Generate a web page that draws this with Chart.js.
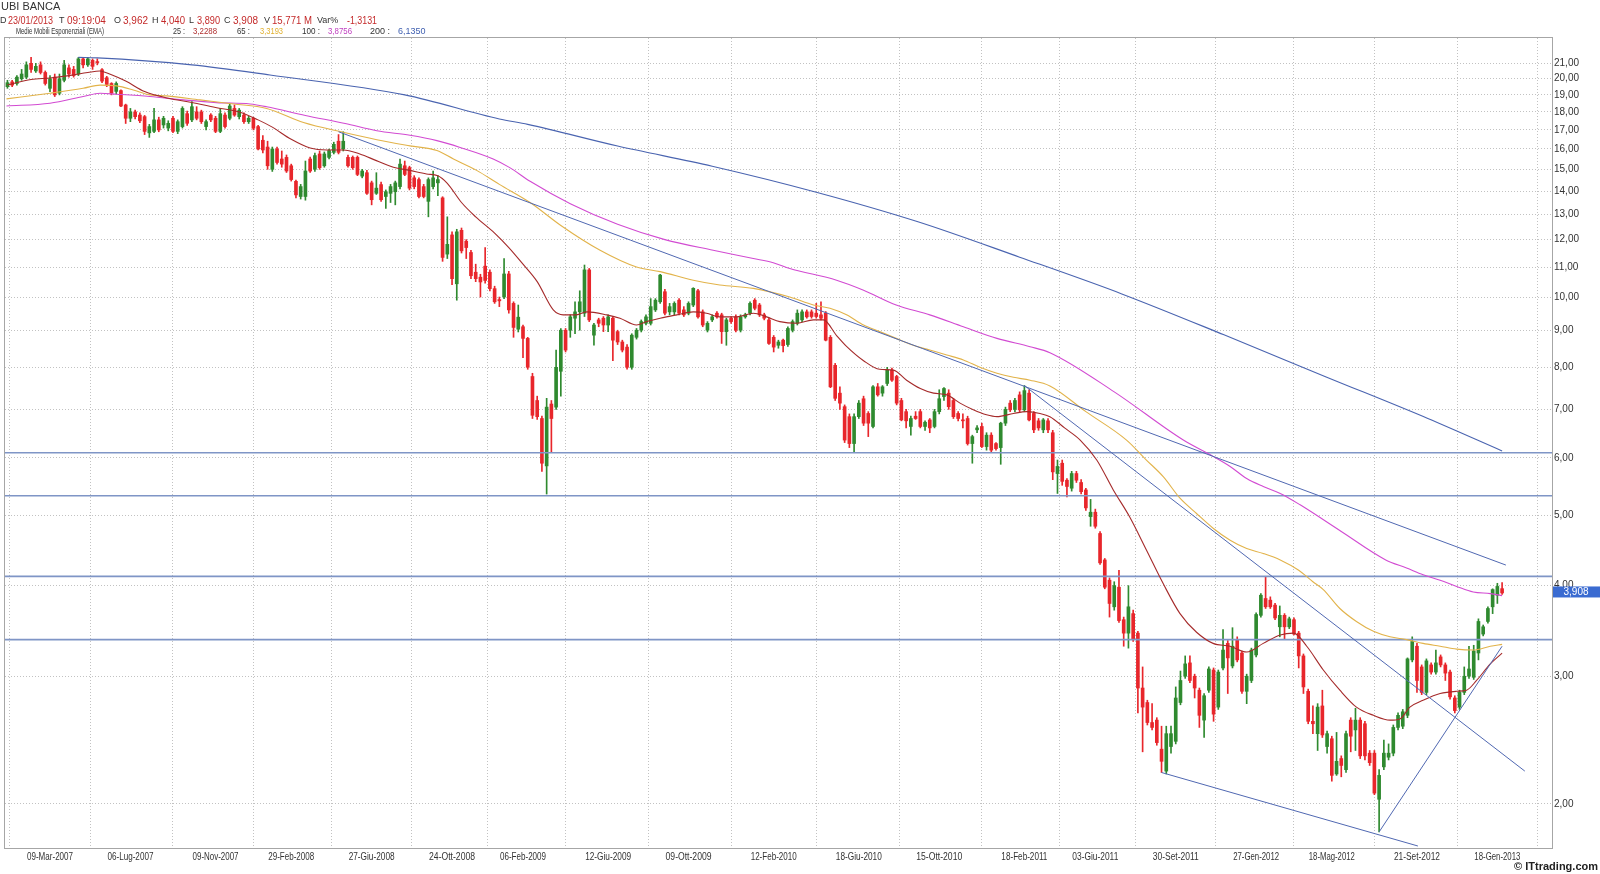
<!DOCTYPE html>
<html><head><meta charset="utf-8">
<script src="https://cdn.jsdelivr.net/npm/chart.js@4.4.1/dist/chart.umd.min.js"></script>
<style>html,body{margin:0;padding:0;background:#fff;overflow:hidden}canvas{display:block}</style>
</head><body>
<canvas id="c" width="1600" height="874"></canvas>
<script>
// ---- DATA (weekly candles, first candle = week -9 relative to 09-Mar-2007) ----
const weekStart = -9;
const opens = [
19.5,19.8,19.7,20.0,20.1,21.0,20.5,20.9,20.4,19.4,
20.1,19.1,19.9,20.7,20.6,20.3,21.3,20.9,21.2,21.1,
20.58,20.06,19.7,19.21,19.26,18.4,17.64,18.0,17.82,17.73,
16.84,16.92,17.55,17.27,17.1,17.64,16.92,17.18,17.9,17.55,
18.0,18.0,17.18,17.82,17.64,16.92,17.82,17.64,18.2,17.73,
17.82,17.45,17.64,17.18,16.45,16.1,15.0,16.0,15.5,15.58,
15.17,14.44,13.76,13.76,15.5,15.0,15.75,15.17,15.58,15.83,
16.4,16.0,15.58,15.58,15.58,14.68,14.84,14.37,13.9,14.29,
13.76,13.9,13.97,14.2,15.17,15.08,14.6,14.52,14.2,13.55,
14.2,14.37,13.7,11.46,12.18,10.43,12.36,11.94,11.52,10.82,
10.65,11.03,10.82,10.27,9.92,10.0,10.76,9.8,9.03,9.1,
8.77,7.77,7.2,6.8,5.85,7.12,7.05,7.9,9.0,9.0,
9.35,9.54,9.5,10.9,8.86,9.3,9.35,9.15,9.35,8.96,
8.67,8.53,8.0,8.8,9.0,9.2,9.2,9.6,9.85,10.17,
9.54,9.54,9.9,9.6,9.5,9.75,10.2,9.54,9.0,9.3,
9.5,9.45,8.96,9.35,9.39,9.0,9.39,9.5,9.9,9.75,
9.45,9.3,8.8,8.58,8.72,8.6,9.0,9.2,9.3,9.54,
9.54,9.5,9.45,9.5,8.8,8.05,7.37,7.06,6.84,6.28,
6.84,7.24,6.91,6.63,7.52,7.37,7.6,7.93,7.77,7.2,
6.95,6.63,6.85,6.95,6.63,6.77,6.63,6.95,7.29,7.37,
7.2,6.91,6.77,6.8,6.28,6.56,6.63,6.22,6.45,6.28,
6.2,6.7,7.14,7.0,7.33,6.99,7.37,6.91,6.75,6.56,
6.75,6.5,5.71,5.9,5.59,5.45,5.71,5.55,5.42,4.98,
5.05,4.72,4.34,4.07,3.74,3.98,3.59,3.44,3.66,3.44,
2.89,2.76,2.59,2.61,2.38,2.22,2.4,2.44,2.76,3.0,
3.13,3.0,2.87,2.61,2.87,3.06,2.72,3.08,3.33,3.1,
3.37,3.23,2.86,2.96,3.21,3.64,3.84,3.82,3.76,3.51,
3.64,3.51,3.59,3.44,3.2,2.86,2.6,2.5,2.73,2.4,
2.46,2.2,2.31,2.23,2.61,2.53,2.61,2.58,2.35,2.35,
2.03,2.25,2.32,2.35,2.55,2.56,2.65,3.16,3.3,3.09,
2.85,3.11,3.04,3.19,3.11,3.04,2.8,2.72,2.85,3.0,
2.99,3.23,3.43,3.57,3.74,3.88,3.962];
const highs = [
19.9,19.9,20.2,20.6,21.1,21.4,21.0,21.1,20.5,20.2,
20.3,20.3,21.2,20.9,20.8,21.4,21.4,21.4,21.3,21.3,
20.65,20.15,19.75,19.8,19.3,18.45,18.2,18.1,17.95,17.8,
17.3,18.2,17.7,17.75,17.5,17.75,17.55,18.3,18.05,18.6,
18.3,18.1,17.55,17.9,17.75,18.2,17.95,18.5,18.4,18.2,
17.95,17.75,17.7,17.25,16.7,16.4,16.1,16.1,15.9,15.7,
15.25,14.5,14.3,15.4,15.6,15.8,15.9,15.85,16.0,16.35,
16.75,16.9,15.7,15.65,15.65,15.0,14.95,14.45,14.84,14.4,
14.05,14.3,14.45,15.5,15.4,15.15,14.7,14.6,14.3,14.6,
14.92,14.7,13.75,12.9,12.3,12.4,12.45,12.0,11.6,11.1,
10.75,11.7,10.9,10.35,10.0,11.3,10.85,9.85,9.75,9.15,
8.8,7.85,7.3,6.85,7.25,7.2,8.45,9.05,9.05,9.45,
9.85,10.2,11.07,10.95,9.2,9.35,9.4,9.45,9.4,9.0,
8.72,8.6,8.9,9.05,9.3,9.45,9.95,9.95,10.75,10.25,
9.8,9.85,9.95,9.7,9.85,10.3,10.25,9.6,9.25,9.45,
9.55,9.5,9.35,9.4,9.45,9.45,9.5,9.85,9.95,9.8,
9.5,9.35,8.85,8.72,8.75,9.1,9.3,9.6,9.6,9.6,
9.6,9.8,9.85,9.55,8.85,8.1,7.52,7.1,6.9,6.9,
7.2,7.3,6.95,7.55,7.6,7.55,8.0,7.98,7.8,7.25,
7.0,6.85,6.95,7.0,6.75,6.8,7.0,7.45,7.5,7.45,
7.25,6.95,6.9,6.85,6.45,6.65,6.7,6.5,6.5,6.3,
6.72,7.05,7.2,7.25,7.4,7.55,7.45,6.95,6.8,6.8,
6.8,6.55,5.96,5.96,5.62,5.75,5.75,5.6,5.45,5.26,
5.1,4.75,4.36,4.1,4.05,4.2,3.62,4.0,3.7,3.46,
3.09,2.78,2.75,2.63,2.56,2.56,2.56,2.9,3.05,3.2,
3.2,3.02,2.89,2.84,3.09,3.08,3.06,3.48,3.36,3.5,
3.4,3.25,3.02,3.28,3.67,3.9,4.12,3.86,3.78,3.75,
3.66,3.62,3.61,3.46,3.22,2.88,2.73,2.75,2.87,2.52,
2.48,2.51,2.33,2.52,2.63,2.71,2.63,2.6,2.37,2.37,
2.23,2.45,2.42,2.57,2.67,2.7,3.18,3.4,3.33,3.11,
3.17,3.13,3.26,3.21,3.13,3.06,2.82,2.87,3.09,3.3,
3.31,3.6,3.53,3.74,3.96,4.03,4.04];
const lows = [
19.4,19.5,19.6,19.9,20.0,20.4,20.4,20.3,19.6,19.2,
18.9,19.0,19.8,20.1,20.1,20.2,20.7,20.8,20.6,20.9,
19.75,19.5,19.0,19.05,18.3,17.35,17.45,17.6,17.4,16.75,
16.6,16.85,16.9,17.1,16.95,16.85,16.8,17.1,17.25,17.45,
17.55,17.35,17.0,17.45,16.85,16.85,17.1,17.55,17.75,17.6,
17.35,17.35,17.0,15.95,15.8,15.0,14.9,15.25,15.1,14.85,
14.45,13.7,13.65,13.6,14.85,14.9,15.0,15.1,15.5,15.75,
15.75,15.9,15.1,15.0,14.7,14.6,13.85,13.4,13.85,13.55,
13.25,13.5,13.4,14.1,14.7,14.05,14.1,13.7,13.7,12.9,
14.1,13.8,11.2,11.3,10.4,9.9,11.5,11.3,10.6,10.5,
10.0,10.45,10.2,9.8,9.7,9.95,9.5,8.8,8.95,8.25,
7.95,6.8,6.78,5.75,5.35,6.12,7.0,7.3,8.4,8.8,
8.9,9.0,9.4,9.25,8.58,9.1,8.96,8.96,8.17,8.6,
8.4,7.95,7.95,8.75,8.95,9.15,9.15,9.55,9.8,9.45,
9.45,9.45,9.45,9.4,9.45,9.7,9.35,9.1,8.95,9.25,
9.35,8.63,8.58,9.2,8.95,8.95,9.35,9.45,9.6,9.4,
9.3,8.6,8.4,8.5,8.4,8.55,8.95,9.15,9.25,9.35,
9.35,9.35,9.3,8.7,7.5,7.2,7.0,6.3,6.2,6.12,
6.8,6.65,6.42,6.6,7.3,7.3,7.55,7.65,7.1,6.75,
6.6,6.45,6.78,6.6,6.55,6.5,6.6,6.9,7.2,7.0,
6.8,6.75,6.6,6.25,5.9,6.5,6.2,6.15,6.12,6.15,
5.88,6.65,6.95,6.95,6.95,6.95,6.75,6.5,6.55,6.5,
6.5,5.6,5.36,5.5,5.3,5.4,5.55,5.35,5.08,4.83,
4.8,4.28,3.96,3.62,3.7,3.56,3.3,3.28,3.35,2.67,
2.36,2.57,2.53,2.41,2.21,2.2,2.35,2.42,2.74,2.98,
2.94,2.8,2.55,2.47,2.85,2.6,2.7,3.06,2.84,3.08,
3.14,2.84,2.75,2.94,3.19,3.62,3.72,3.72,3.59,3.4,
3.38,3.49,3.42,3.08,2.84,2.58,2.5,2.37,2.47,2.35,
2.15,2.19,2.18,2.21,2.36,2.37,2.31,2.3,2.26,2.06,
1.83,2.23,2.3,2.33,2.53,2.54,2.63,3.14,2.85,2.83,
2.83,3.02,3.02,3.09,2.96,2.79,2.67,2.7,2.83,2.98,
2.97,3.16,3.41,3.55,3.66,3.78,3.89];
const closes = [
19.75,19.6,20.1,20.3,20.9,20.6,20.8,20.4,19.7,20.0,
19.0,20.0,20.9,20.3,20.2,21.3,20.9,21.3,20.8,21.05,
19.85,19.64,19.1,19.7,18.34,17.64,18.0,17.73,17.5,16.92,
17.18,17.55,17.0,17.64,17.36,16.92,17.45,18.2,17.36,18.3,
17.64,17.45,17.45,17.55,16.92,17.9,17.18,18.34,17.82,18.1,
17.45,17.64,17.09,16.0,15.95,15.17,16.0,15.33,15.25,14.92,
14.52,13.83,14.2,14.92,14.92,15.67,15.08,15.75,15.92,16.24,
15.83,16.4,15.17,15.08,14.76,14.92,13.9,13.62,14.13,13.62,
13.97,14.2,14.37,15.25,14.76,14.13,14.2,13.76,13.76,14.52,
14.6,14.52,11.34,11.82,10.6,12.3,11.58,11.7,10.7,10.6,
10.49,10.54,10.27,9.85,9.88,10.76,9.6,9.08,9.38,8.77,
8.0,6.87,6.84,5.9,7.05,6.8,8.0,9.0,8.45,9.39,
9.54,9.85,10.9,9.3,9.15,9.2,9.15,9.39,8.72,8.67,
8.45,8.0,8.86,9.0,9.25,9.39,9.7,9.9,10.72,9.5,
9.7,9.8,9.5,9.45,9.8,10.28,9.39,9.15,9.2,9.39,
9.39,8.96,9.3,9.25,9.0,9.39,9.45,9.8,9.65,9.45,
9.35,8.63,8.53,8.67,8.57,9.05,9.25,9.5,9.54,9.39,
9.4,9.4,9.35,8.72,7.52,7.25,7.14,6.35,6.28,6.84,
7.14,6.7,6.7,7.52,7.33,7.52,7.93,7.68,7.14,6.77,
6.75,6.8,6.8,6.63,6.72,6.6,6.95,7.24,7.48,7.06,
6.84,6.8,6.75,6.28,6.42,6.6,6.22,6.45,6.15,6.18,
6.7,7.0,6.99,7.2,6.99,7.43,6.77,6.56,6.6,6.77,
6.56,5.74,5.84,5.57,5.48,5.71,5.59,5.39,5.12,5.05,
4.83,4.3,3.98,3.78,4.0,3.58,3.44,3.74,3.37,2.89,
2.72,2.59,2.55,2.43,2.29,2.5,2.5,2.8,2.96,3.12,
2.96,2.89,2.65,2.82,3.07,2.66,3.04,3.26,3.18,3.3,
3.16,2.86,3.0,3.26,3.65,3.88,3.74,3.74,3.61,3.64,
3.51,3.6,3.43,3.2,2.9,2.6,2.58,2.72,2.49,2.5,
2.19,2.29,2.26,2.5,2.48,2.61,2.33,2.33,2.28,2.07,
2.19,2.35,2.35,2.55,2.65,2.68,3.17,3.35,2.96,2.85,
3.15,3.04,3.13,3.11,3.03,2.81,2.69,2.85,3.0,3.07,
3.25,3.57,3.51,3.72,3.95,3.99,3.908];

// Exponential moving averages: [week, value]
const ema25 = [[-9,19.6],[-4,19.95],[0,20.05],[4,20.2],[8,20.4],[10.5,20.5],[13,20.25],[16,19.85],[20,19.2],[25,18.8],[30,18.55],[35,18.25],[40,18.0],[44,17.55],[47,17.15],[51,16.5],[55,16.05],[58.5,15.95],[62,15.95],[65.5,15.75],[69,15.42],[72.6,15.1],[76,14.95],[79.6,14.78],[82,14.7],[84,14.35],[87,13.5],[90,12.9],[94,12.25],[97,11.7],[100,11.1],[103,10.5],[106.4,9.6],[108.5,9.45],[111.3,9.45],[113.5,9.54],[117.7,9.45],[120.5,9.35],[124,9.15],[126.2,9.25],[129,9.35],[132.5,9.45],[136,9.54],[138.8,9.5],[141.6,9.39],[145.2,9.39],[148.7,9.5],[151.5,9.39],[154.3,9.25],[157.9,9.2],[161.4,9.3],[163.5,9.3],[166.3,8.85],[168.4,8.55],[172,8.17],[175.4,7.95],[178.3,7.93],[181.1,7.68],[184,7.48],[186.8,7.37],[189.6,7.33],[192.4,7.14],[195.2,6.99],[198,6.88],[200.2,6.84],[203.7,6.91],[206.5,6.95],[209.3,6.91],[211.4,6.84],[214.5,6.6],[217.8,6.35],[221.3,5.96],[224.8,5.42],[228.3,4.97],[231.8,4.48],[235.4,4.02],[238.9,3.66],[242.4,3.45],[245.9,3.33],[249.5,3.3],[253,3.24],[256.5,3.33],[260.1,3.42],[262.9,3.44],[265.7,3.3],[269.2,3.06],[272.7,2.87],[276.2,2.72],[279.8,2.65],[283.3,2.61],[285.4,2.62],[287.5,2.72],[290.3,2.78],[293.9,2.84],[297.4,2.86],[299.5,2.87],[301.6,2.96],[304.5,3.12],[307,3.2288]];
const ema65 = [[-9.2,18.76],[0,19.1],[7,19.4],[10.6,19.6],[14.1,19.55],[17.6,19.3],[21.1,19.0],[24.7,18.94],[31.7,18.7],[38.8,18.46],[45.8,18.2],[53.6,17.4],[62,16.87],[69.1,16.48],[76.1,16.16],[81.8,15.92],[85.3,15.5],[90.2,14.95],[95,14.3],[101.5,13.5],[108,12.55],[116.3,11.6],[124,11.0],[129,10.84],[136,10.55],[141.6,10.39],[148.7,10.28],[156.4,10.0],[161.4,9.75],[164.9,9.65],[168.4,9.45],[172,9.15],[175.4,8.96],[178.9,8.77],[182.5,8.58],[186,8.45],[189.6,8.32],[193.1,8.19],[196.6,8.0],[200.2,7.85],[203.7,7.75],[207.2,7.68],[211.4,7.54],[219,6.95],[227.6,6.35],[231.8,5.96],[235.4,5.65],[238.9,5.28],[242.4,5.03],[245.9,4.8],[249.5,4.62],[253,4.5],[256.5,4.43],[260.1,4.34],[264,4.2],[267,4.05],[269.2,3.95],[272.7,3.72],[276.2,3.57],[279.8,3.46],[283.3,3.4],[286.8,3.37],[290.3,3.33],[293.9,3.3],[297.4,3.27],[300.9,3.26],[304.5,3.3],[307,3.3193]];
const ema100 = [[-9.2,18.34],[0,18.5],[7,18.9],[10.6,19.1],[14.1,19.04],[21.1,18.9],[28.2,18.7],[35.2,18.54],[42.3,18.46],[45.8,18.3],[54,17.8],[62.4,17.35],[69.1,16.95],[76.1,16.71],[81.8,16.43],[86.7,16.08],[93.7,15.5],[97.2,15.08],[101.5,14.44],[110,13.45],[120,12.6],[130,12.0],[140.2,11.6],[148.7,11.3],[152.9,11.15],[156.4,10.95],[166.3,10.55],[172,10.22],[178.9,9.75],[186,9.45],[193.1,9.1],[200.2,8.77],[207.2,8.54],[211.4,8.38],[225,7.4],[239.6,6.35],[245.9,6.03],[249.5,5.84],[253,5.62],[256.5,5.48],[260.1,5.36],[264.3,5.17],[273,4.75],[282.4,4.34],[286.8,4.23],[290.3,4.14],[293.9,4.07],[297.4,3.99],[300.9,3.92],[304.5,3.9],[307,3.8756]];
const ema200 = [[6,21.4],[10,21.37],[30,20.9],[46.5,20.24],[75,19.0],[95,17.6],[101,17.3],[120,16.15],[140,15.15],[162,13.95],[183.5,12.7],[205,11.35],[226.6,10.1],[248.2,8.87],[269.8,7.76],[291.3,6.8],[307,6.135]];

// Trend lines and horizontal levels drawn on the chart
const trendA = [[61,16.9],[307.8,4.27]];
const trendB = [[206,7.55],[311.8,2.22]];
const trendC = [[235,2.21],[289.2,1.75]];
const trendD = [[281,1.83],[307,3.3]];
const levels = [6.10, 5.32, 4.12, 3.37];

// Axes
const tickWeeks = [0,17,35,51,68,85,100,118,135,153,171,188,206,221,238,255,271,289,306];
const tickLabels = ['09-Mar-2007','06-Lug-2007','09-Nov-2007','29-Feb-2008','27-Giu-2008','24-Ott-2008','06-Feb-2009','12-Giu-2009','09-Ott-2009','12-Feb-2010','18-Giu-2010','15-Ott-2010','18-Feb-2011','03-Giu-2011','30-Set-2011','27-Gen-2012','18-Mag-2012','21-Set-2012','18-Gen-2013'];
const yTicks = [2,3,4,5,6,7,8,9,10,11,12,13,14,15,16,17,18,19,20,21];
const X_MIN = -9.514, X_MAX = 317.55;
const Y_MIN = 1.739, Y_MAX = 22.76;

// ---- BUILD ----
const RED = '#e8262b', GREEN = '#2f8a2f';
const wickData = opens.map((o, k) => ({ x: weekStart + k, y: [lows[k], highs[k]] }));
const bodyData = opens.map((o, k) => ({ x: weekStart + k, y: [o, closes[k]] }));
const colors = opens.map((o, k) => closes[k] >= o ? GREEN : RED);
const pts = arr => arr.map(([x, y]) => ({ x, y }));
const lineDs = (arr, color, w, order, smooth) => ({
  type: 'line', data: pts(arr), borderColor: color, borderWidth: w, pointRadius: 0,
  fill: false, order, cubicInterpolationMode: smooth ? 'monotone' : 'default', tension: 0
});

const datasets = [
  { type: 'bar', data: wickData, backgroundColor: colors, barThickness: 1, grouped: false, order: 20, borderWidth: 0 },
  { type: 'bar', data: bodyData, backgroundColor: colors, barThickness: 3, grouped: false, order: 19, borderWidth: 0, minBarLength: 1 },
];
levels.forEach(v => datasets.push(lineDs([[X_MIN, v], [X_MAX, v]], '#7f95c6', 1.6, 6, false)));
datasets.push(lineDs(ema200, '#4a64b0', 1.1, 5, true));
datasets.push(lineDs(ema100, '#d24bd2', 1.1, 4, true));
datasets.push(lineDs(ema65, '#e2b34a', 1.1, 3, true));
datasets.push(lineDs(ema25, '#a52a2a', 1.1, 2, true));
[trendA, trendB, trendC, trendD].forEach(t => datasets.push(lineDs(t, '#5068b2', 1, 1, false)));

const FONT = "'Liberation Sans', Arial, sans-serif";
const decor = {
  id: 'decor',
  beforeDraw(chart) {
    const c = chart.ctx; c.save(); c.fillStyle = '#fff'; c.fillRect(0, 0, chart.width, chart.height); c.restore();
  },
  afterDraw(chart) {
    const c = chart.ctx, a = chart.chartArea, y = chart.scales.y, x = chart.scales.x;
    c.save();
    // frame
    c.strokeStyle = '#a6a6a6'; c.lineWidth = 1;
    c.strokeRect(a.left - 0.5, a.top - 0.5, a.right - a.left + 1, a.bottom - a.top + 1);
    // x-axis tick labels (positions from the x scale), condensed like the original
    c.fillStyle = '#333'; c.font = '10px ' + FONT; c.textAlign = 'center'; c.textBaseline = 'middle';
    tickWeeks.forEach((w, k) => c.fillText(tickLabels[k], x.getPixelForValue(w), a.bottom + 9, 46));
    // header
    c.textBaseline = 'middle'; c.textAlign = 'left';
    c.fillStyle = '#333'; c.font = '11px ' + FONT;
    c.fillText('UBI BANCA', 1, 7);
    const R = '#c42a2a';
    const seg = (lbl, lx, val, vx, vw) => {
      c.font = '9px ' + FONT; c.fillStyle = '#333'; c.fillText(lbl, lx, 21);
      c.font = '10px ' + FONT; c.fillStyle = R; c.fillText(val, vx, 21, vw);
    };
    seg('D', 0, '23/01/2013', 8, 45);
    seg('T', 59, '09:19:04', 67, 41);
    seg('O', 114, '3,962', 123, 25);
    seg('H', 152, '4,040', 161, 24);
    seg('L', 189, '3,890', 197, 23);
    seg('C', 224, '3,908', 233, 25);
    seg('V', 264, '15,771 M', 272, 40);
    seg('Var%', 317, '-1,3131', 347, 30);
    const l3 = (t, xx, w, col) => { c.font = '9px ' + FONT; c.fillStyle = col; c.fillText(t, xx, 32, w); };
    l3('Medie Mobili Esponenziali (EMA)', 16, 88, '#333');
    l3('25 :', 173, 12, '#333'); l3('3,2288', 193, 24, '#b03030');
    l3('65 :', 237, 13, '#333'); l3('3,3193', 260, 23, '#e0b030');
    l3('100 :', 302, 18, '#333'); l3('3,8756', 328, 24, '#c040c0');
    l3('200 :', 370, 20, '#333'); l3('6,1350', 398, 32, '#4060b0');
    // last price box
    const last = closes[closes.length - 1];
    const py = y.getPixelForValue(last);
    c.fillStyle = '#3a6bd1';
    c.fillRect(a.right + 1, py - 6.5, chart.width - a.right - 1, 11);
    c.fillStyle = '#fff'; c.font = '10px ' + FONT; c.textAlign = 'center';
    c.fillText(last.toFixed(3).replace('.', ','), (a.right + chart.width) / 2, py - 1);
    // copyright
    c.fillStyle = '#222'; c.font = 'bold 11px ' + FONT; c.textAlign = 'right';
    c.fillText('\u00A9 ITtrading.com', 1598, 867);
    c.restore();
  }
};

Chart.defaults.font.family = FONT;
new Chart(document.getElementById('c'), {
  type: 'bar',
  data: { datasets },
  plugins: [decor],
  options: {
    responsive: false, animation: false, devicePixelRatio: 1,
    layout: { padding: { left: 5, top: 38, right: 0, bottom: 0 } },
    plugins: { legend: { display: false }, tooltip: { enabled: false } },
    scales: {
      x: {
        type: 'linear', min: X_MIN, max: X_MAX, offset: false,
        afterBuildTicks: s => { s.ticks = tickWeeks.map(v => ({ value: v })); },
        afterFit: s => { s.height = 26; },
        grid: { color: '#c2c2c2', drawTicks: false, lineWidth: 1 },
        border: { display: false, dash: [1, 2] },
        ticks: { display: false, autoSkip: false, maxRotation: 0, minRotation: 0 }
      },
      y: {
        type: 'logarithmic', position: 'right', min: Y_MIN, max: Y_MAX,
        afterBuildTicks: s => { s.ticks = yTicks.map(v => ({ value: v })); },
        afterFit: s => { s.width = 48; },
        grid: { color: '#c2c2c2', drawTicks: false, lineWidth: 1 },
        border: { display: false, dash: [1, 2] },
        ticks: { padding: 2, color: '#333', font: { size: 10 },
          callback: v => Number(v).toFixed(2).replace('.', ',') }
      }
    }
  }
});
</script>
</body></html>
